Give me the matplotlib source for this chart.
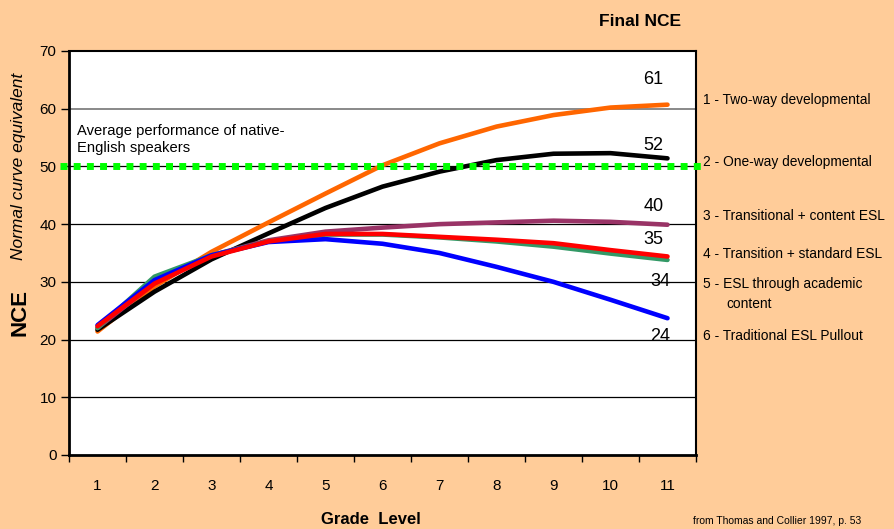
import matplotlib
matplotlib.use("Agg")
import matplotlib.pyplot as plt

plt.rcParams['font.family'] = ['Liberation Sans', 'DejaVu Sans']

grades = [1, 2, 3, 4, 5, 6, 7, 8, 9, 10, 11]
two_way = [21.4, 29.2, 35.2, 40.3, 45.3, 50.2, 54.0, 56.9, 58.9, 60.2, 60.7]
one_way = [21.7, 28.3, 33.9, 38.4, 42.8, 46.5, 49.1, 51.1, 52.2, 52.3, 51.4]
trans_content = [22.0, 29.8, 34.6, 37.2, 38.7, 39.4, 40.0, 40.3, 40.6, 40.4, 39.9]
esl_academic = [22.0, 30.9, 34.6, 37.0, 38.2, 38.2, 37.7, 37.0, 36.1, 34.9, 33.8]
pullout = [22.5, 30.3, 34.6, 36.9, 37.4, 36.6, 35.0, 32.6, 30.0, 26.9, 23.7]
trans_standard = [22.3, 29.7, 34.4, 37.0, 38.3, 38.3, 37.8, 37.3, 36.7, 35.5, 34.4]
native_level = 50
final_labels = ["61", "52", "40", "35", "34", "24"]
legend_labels = ["1 - Two-way developmental", "2 - One-way developmental",
                 "3 - Transitional + content ESL", "4 - Transition + standard ESL",
                 "5 - ESL through academic", "content", "6 - Traditional ESL Pullout"]

BG = '#FFCC99'
fig = plt.figure(figsize=(8.95, 5.29), dpi=100, facecolor=BG)
ax = fig.add_axes([69/895, 1-455/529, (696-69)/895, (455-51)/529])
ax.set_facecolor('white')
ax.set_xlim(0.5, 11.5)
ax.set_ylim(0, 70)

for v in [10, 20, 30, 40, 50]:
    ax.axhline(v, color='black', lw=0.9, zorder=1)
ax.axhline(60, color='#808080', lw=1.3, zorder=1)

series = [(two_way, '#FF6600'), (one_way, '#000000'), (trans_content, '#993366'),
          (esl_academic, '#339966'), (pullout, '#0000FF'), (trans_standard, '#FF0000')]
for vals, c in series:
    ax.plot(grades, vals, color=c, lw=3.3, solid_capstyle='round', solid_joinstyle='round', zorder=3)

ax.plot([0.34, 11.6], [native_level, native_level], color='#00FF00', lw=5,
        linestyle=(0, (1, 0.9)), dash_capstyle='butt', clip_on=False, zorder=4)

ax.text(0.64, 57.4, "Average performance of native-\nEnglish speakers", fontsize=10.6,
        ha='left', va='top', linespacing=1.3, zorder=5)

lab_pos = [(10.75, 65.0), (10.75, 53.7), (10.75, 43.0), (10.75, 37.3), (10.87, 30.0), (10.87, 20.5)]
for t, (x, y) in zip(final_labels, lab_pos):
    ax.text(x, y, t, fontsize=13, ha='center', va='center', zorder=5)

ax.set_yticks(range(0, 71, 10))
ax.tick_params(axis='y', direction='out', length=6, width=1, labelsize=11, pad=3)
ax.set_xticks([g - 0.5 for g in grades] + [11.5])
ax.set_xticklabels([])
ax.set_xticks(grades, minor=True)
ax.set_xticklabels([str(g) for g in grades], minor=True, fontsize=11)
ax.tick_params(axis='x', which='major', direction='out', length=5, width=1)
ax.tick_params(axis='x', which='minor', length=0, pad=17)

for s in ['left', 'bottom']:
    ax.spines[s].set_linewidth(2)
for s in ['top', 'right']:
    ax.spines[s].set_linewidth(1.5)

fig.text(20/895, 1-312/529, "NCE", rotation=90, fontsize=16, fontweight='bold', ha='center', va='center')
fig.text(19/895, 1-166/529, "Normal curve equivalent", rotation=90, fontsize=12.5, style='italic', ha='center', va='center')
fig.text(371/895, 1-519/529, "Grade  Level", fontsize=12, fontweight='bold', ha='center', va='center')
fig.text(693/895, 1-521/529, "from Thomas and Collier 1997, p. 53", fontsize=7.5, ha='left', va='center')
fig.text(640/895, 1-22/529, "Final NCE", fontsize=12.5, fontweight='bold', ha='center', va='center')

leg_y = [100, 162, 216, 254, 284, 304, 336]
for t, y in zip(legend_labels, leg_y):
    x = 726 if t == "content" else 703
    fig.text(x/895, 1-y/529, t, fontsize=9.9, ha='left', va='center')

fig.savefig('out.png', dpi=100, facecolor=BG)
